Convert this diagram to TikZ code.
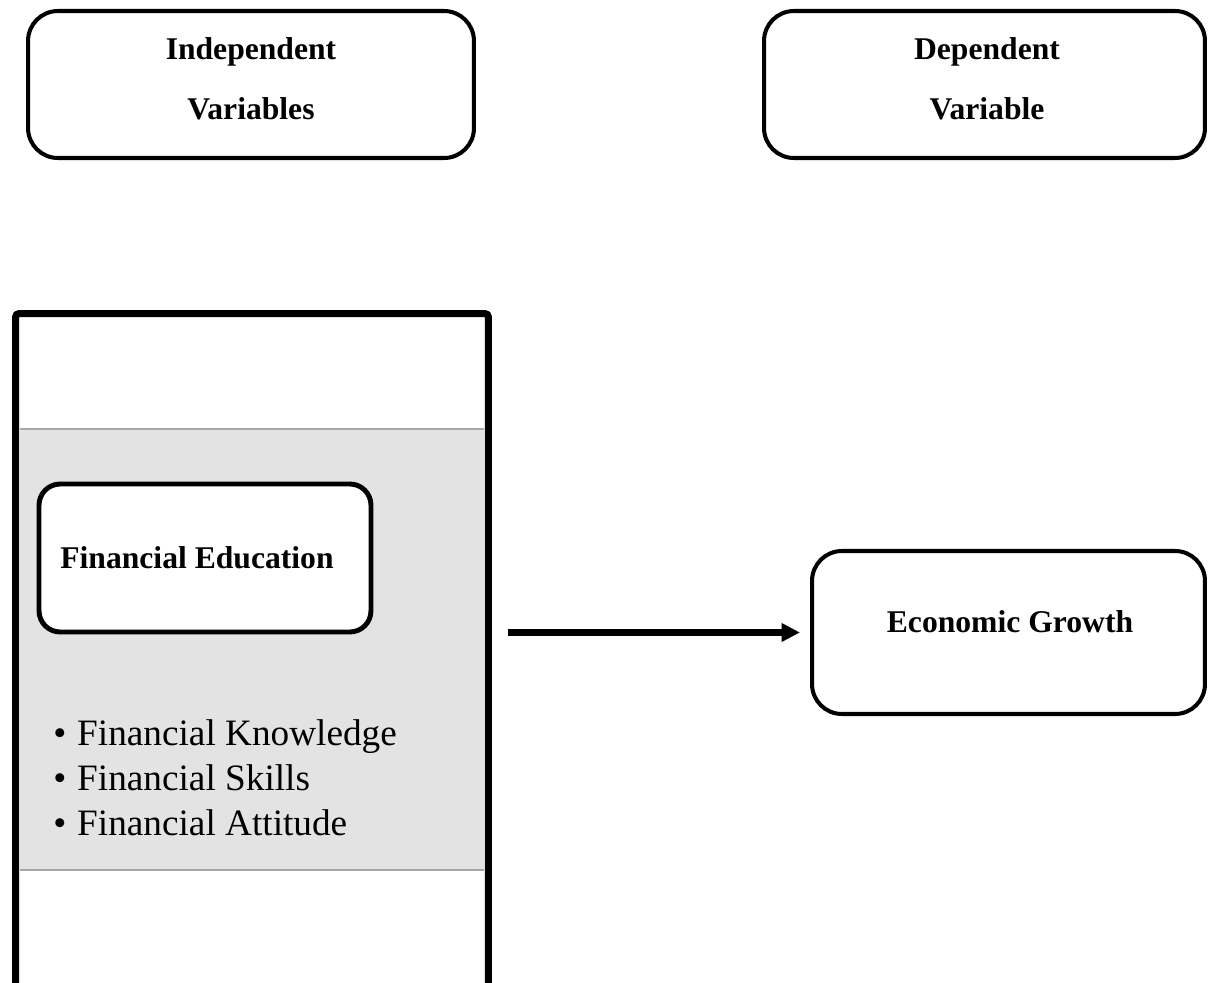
\documentclass[tikz,border=0pt]{standalone}
\usepackage{fontspec}
\setmainfont{Liberation Serif}
\usetikzlibrary{arrows.meta}
\definecolor{bandgray}{HTML}{E3E3E3}
\definecolor{bandline}{HTML}{A6A6A6}
\begin{document}
\begin{tikzpicture}[x=0.02cm,y=-0.02cm,
  varbox/.style={draw=black, line width=2.3pt, rounded corners=17pt, fill=white, inner sep=0pt},
  febox/.style={draw=black, line width=2.8pt, rounded corners=12pt, fill=white, inner sep=0pt},
  framebox/.style={draw=black, line width=4pt, rounded corners=2pt, inner sep=0pt},
  boldlbl/.style={font=\fontsize{18pt}{21pt}\selectfont\bfseries, inner sep=0pt},
  itemlbl/.style={font=\fontsize{21.2pt}{25.5pt}\selectfont, inner sep=0pt, align=left},
  bigarrow/.style={line width=3.6pt, -{Triangle[length=10.4pt,width=10pt]}}
]
\useasboundingbox (0,0) rectangle (1208,983);
\clip (0,0) rectangle (1208,983);

% top boxes
\node[varbox, minimum width=8.92cm, minimum height=2.94cm] (ind) at (251,84.5) {};
\node[boldlbl, anchor=base] (indt1) at (251,60) {Independent};
\node[boldlbl, anchor=base] (indt2) at (251,120) {Variables};

\node[varbox, minimum width=8.82cm, minimum height=2.94cm] (dep) at (984.5,84.5) {};
\node[boldlbl, anchor=base] (dept1) at (987,60) {Dependent};
\node[boldlbl, anchor=base] (dept2) at (987,120) {Variable};

% grey band
\fill[bandgray] (20,429) rectangle (484,870);
\draw[bandline, line width=1.5pt] (20,429) -- (484,429);
\draw[bandline, line width=1.5pt] (20,870) -- (484,870);

% frame
\node[framebox, minimum width=9.46cm, minimum height=13.8cm] (fr) at (252,658.5) {};

% financial education box
\node[febox, minimum width=6.64cm, minimum height=2.96cm] (fe) at (205,558) {};
\node[boldlbl, anchor=base west] (fet) at (60,568) {Financial Education};

% bullet list (anchor = baseline of last line)
\node[itemlbl, anchor=base west] (items) at (53,835) {\makebox[13.6pt][l]{•}Financial Knowledge\\\makebox[13.6pt][l]{•}Financial Skills\\\makebox[13.6pt][l]{•}Financial Attitude};

% economic growth
\node[varbox, minimum width=7.86cm, minimum height=3.26cm] (eg) at (1008.5,632.5) {};
\node[boldlbl, anchor=base] (egt) at (1010,632) {Economic Growth};

% arrow
\draw[bigarrow, shorten <=9pt, shorten >=5.7pt] (fr.east |- eg.west) -- (eg.west);
\end{tikzpicture}
\end{document}
